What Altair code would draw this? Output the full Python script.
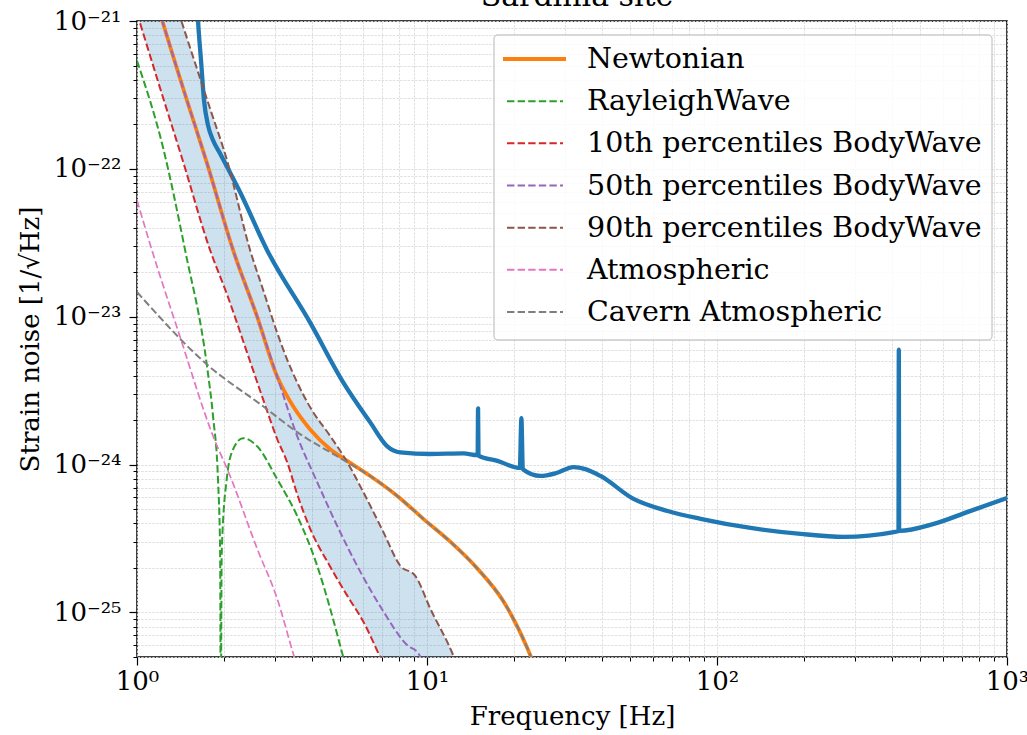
import altair as alt
import pandas as pd

# ---- Detector sensitivity (1/sqrt(Hz)) ----
sens_f = [1.611, 1.624, 1.663, 1.703, 1.759, 1.829, 1.934, 2.268, 2.810, 3.955,
          5.141, 6.372, 7.294, 8.088, 10.27, 13.35, 14.95, 15.00, 15.05, 17.49,
          20.9, 21.16, 21.4, 24.61, 27.95, 31.99, 35.18, 39.65, 51.54, 67.52,
          87.78, 130.6, 194.3, 273.5, 407.0, 422.5, 423.6, 424.7, 559.4, 732.8, 1000.0]
sens_v = [1.36e-21, 1.00e-21, 5.38e-22, 2.89e-22, 1.96e-22, 1.56e-22, 1.27e-22, 6.95e-23, 2.82e-23, 9.12e-24,
          3.60e-24, 1.93e-24, 1.33e-24, 1.21e-24, 1.18e-24, 1.19e-24, 1.16e-24, 2.40e-24, 1.15e-24, 1.06e-24,
          9.5e-25, 2.06e-24, 9.3e-25, 8.38e-25, 8.77e-25, 9.62e-25, 9.33e-25, 8.38e-25, 5.86e-25, 4.86e-25,
          4.30e-25, 3.73e-25, 3.40e-25, 3.25e-25, 3.50e-25, 3.56e-25, 6.00e-24, 3.56e-25, 3.97e-25, 4.79e-25, 5.94e-25]

# ---- Total Newtonian noise ----
nn_f = [1.109, 1.229, 1.488, 1.744, 2.145, 2.596, 3.043, 3.455, 3.955, 4.637,
        5.307, 6.372, 7.899, 9.710, 12.03, 14.92, 18.34, 22.19, 23.65]
nn_v = [1.92e-21, 9.70e-22, 2.89e-22, 1.09e-22, 2.82e-23, 1.00e-23, 3.94e-24, 2.48e-24, 1.73e-24, 1.27e-24,
        1.06e-24, 8.38e-25, 6.14e-25, 4.30e-25, 3.01e-25, 1.98e-25, 1.19e-25, 5.73e-26, 4.20e-26]

# ---- Rayleigh-wave contribution ----
rayleigh_f = [1.000, 1.229, 1.465, 1.744, 1.829, 1.904, 1.934, 1.940, 1.945, 1.951,
              1.961, 2.045, 2.145, 2.322, 2.596, 3.043, 3.567, 4.181, 4.637, 5.101, 5.266]
rayleigh_v = [5.38e-22, 1.40e-22, 2.82e-23, 4.60e-24, 2.12e-24, 7.62e-25, 2.70e-25, 5.0e-26, 1.0e-28, 5.0e-26,
              2.70e-25, 8.38e-25, 1.27e-24, 1.51e-24, 1.33e-24, 7.98e-25, 4.50e-25, 2.07e-25, 1.06e-25, 5.30e-26, 4.20e-26]

# ---- Body-wave percentiles (10th and 90th share a frequency grid) ----
body_f = [1.000, 1.200, 1.430, 1.787, 2.045, 2.455, 2.722, 3.043, 3.294, 3.567,
          3.955, 4.637, 5.307, 6.028, 7.067, 8.088, 9.111, 10.27, 12.23, 13.03]
body10_v = [1.13e-21, 3.54e-22, 1.18e-22, 2.82e-23, 1.41e-23, 4.98e-24, 2.76e-24, 1.49e-24, 1.04e-24, 6.32e-25,
            3.68e-25, 2.04e-25, 1.30e-25, 8.69e-26, 4.54e-26, 2.85e-26, 1.93e-26, 1.31e-26, 7.62e-27, 6.04e-27]
body90_v = [9.04e-21, 2.87e-21, 9.70e-22, 2.55e-22, 1.14e-22, 2.82e-23, 1.52e-23, 7.80e-24, 5.13e-24, 3.60e-24,
            2.44e-24, 1.56e-24, 1.04e-24, 6.53e-25, 3.51e-25, 2.07e-25, 1.77e-25, 1.06e-25, 5.30e-26, 3.88e-26]

body50_f = [1.109, 1.229, 1.488, 1.744, 2.145, 2.596, 3.043, 3.567, 4.181, 4.902,
            5.886, 7.067, 8.551, 9.333, 9.865]
body50_v = [1.92e-21, 9.70e-22, 2.89e-22, 1.09e-22, 2.82e-23, 1.00e-23, 3.94e-24, 1.56e-24, 7.62e-25, 3.85e-25,
            1.89e-25, 1.02e-25, 6.00e-26, 5.30e-26, 4.06e-26]

# ---- Atmospheric contributions ----
atm_f = [1.000, 1.126, 1.407, 1.829, 2.094, 2.596, 3.043, 3.455, 3.539]
atm_v = [6.14e-23, 2.82e-23, 7.33e-24, 1.56e-24, 8.38e-25, 2.70e-25, 1.24e-25, 5.30e-26, 4.54e-26]

cav_f = [1.000, 1.744, 2.722, 3.567, 5.307, 6.372, 7.899, 9.710, 12.03, 14.92, 18.34, 22.19, 23.65]
cav_v = [1.47e-23, 4.75e-24, 2.48e-24, 1.66e-24, 1.04e-24, 8.38e-25, 6.14e-25, 4.30e-25, 3.01e-25,
         1.98e-25, 1.19e-25, 5.73e-26, 4.20e-26]

legend_labels = ["Newtonian", "RayleighWave", "10th percentiles BodyWave",
                 "50th percentiles BodyWave", "90th percentiles BodyWave",
                 "Atmospheric", "Cavern Atmospheric"]

FONT = "DejaVu Serif"
FS = 26
LEG_FS = 28.5
W, H = 870, 636

xs = alt.Scale(type="log", domain=[1, 1000], nice=False)
ys = alt.Scale(type="log", domain=[5e-26, 1e-21], nice=False)

sup = {"0": "\u2070", "1": "\u00b9", "2": "\u00b2", "3": "\u00b3", "4": "\u2074",
       "5": "\u2075", "6": "\u2076", "7": "\u2077", "8": "\u2078", "9": "\u2079", "-": "\u207b"}


def pow_label_expr(exps):
    expr = "''"
    for e in exps:
        lab = "10" + "".join(sup[c] for c in str(e))
        expr = f"round(log(datum.value)/LN10) == {e} ? '{lab}' : ({expr})"
    return expr


x_major = [1, 10, 100, 1000]
x_minor = [m * d for d in (1, 10, 100) for m in range(2, 10)]
y_major = [1e-25, 1e-24, 1e-23, 1e-22, 1e-21]
y_minor = [m * d for d in (1e-26, 1e-25, 1e-24, 1e-23, 1e-22) for m in range(2, 10)
           if 5e-26 <= m * d <= 1e-21]

grid_style = dict(grid=True, gridColor="#dcdcdc", gridDash=[2.5, 1.2], gridWidth=0.9)

x_axis_major = alt.Axis(values=x_major, labelExpr=pow_label_expr([0, 1, 2, 3]), orient="bottom",
                        tickSize=8, tickWidth=1.2, tickColor="black", domain=False,
                        labelFont=FONT, labelFontSize=FS, labelColor="black", labelPadding=3,
                        labelFlush=False, labelOverlap=False,
                        title="Frequency [Hz]", titleFont=FONT, titleFontSize=FS,
                        titleFontWeight="normal", titleColor="black", titlePadding=9, **grid_style)
y_axis_major = alt.Axis(values=y_major, labelExpr=pow_label_expr([-21, -22, -23, -24, -25]), orient="left",
                        tickSize=8, tickWidth=1.2, tickColor="black", domain=False,
                        labelFont=FONT, labelFontSize=FS, labelColor="black", labelPadding=8,
                        labelFlush=False, labelOverlap=False,
                        title="Strain noise [1/\u221aHz]", titleFont=FONT, titleFontSize=FS,
                        titleFontWeight="normal", titleColor="black", titlePadding=10, **grid_style)
x_axis_minor = alt.Axis(values=x_minor, orient="bottom", labels=False, tickSize=4, tickWidth=1,
                        tickColor="black", domain=False, title="", **grid_style)
y_axis_minor = alt.Axis(values=y_minor, orient="left", labels=False, tickSize=4, tickWidth=1,
                        tickColor="black", domain=False, title="", **grid_style)

# Shaded spread between 10th and 90th body-wave percentiles
band_df = pd.DataFrame({"f": body_f, "lo": body10_v, "hi": body90_v})
band = alt.Chart(band_df).mark_area(color="#1f77b4", opacity=0.22, clip=True,
                                    interpolate="monotone").encode(
    x=alt.X("f:Q", scale=xs, axis=x_axis_major),
    y=alt.Y("hi:Q", scale=ys, axis=y_axis_major),
    y2="lo:Q",
)

sens_df = pd.DataFrame({"f": sens_f, "v": sens_v})
sens = alt.Chart(sens_df).mark_line(color="#1f77b4", strokeWidth=4.3, clip=True,
                                    strokeJoin="round", strokeCap="round",
                                    interpolate="monotone").encode(
    x=alt.X("f:Q", scale=xs, axis=x_axis_minor),
    y=alt.Y("v:Q", scale=ys, axis=y_axis_minor),
)


def curve(f, v, color, width, dash=None):
    kw = dict(color=color, strokeWidth=width, clip=True, interpolate="monotone")
    if dash:
        kw["strokeDash"] = dash
    return alt.Chart(pd.DataFrame({"f": f, "v": v})).mark_line(**kw).encode(
        x=alt.X("f:Q", scale=xs, axis=None),
        y=alt.Y("v:Q", scale=ys, axis=None),
    )


DASH = [7.4, 3.2]
curves = [
    curve(nn_f, nn_v, "#ff7f0e", 3.8),
    curve(rayleigh_f, rayleigh_v, "#2ca02c", 2.0, DASH),
    curve(body_f, body10_v, "#d62728", 2.0, DASH),
    curve(body50_f, body50_v, "#9467bd", 2.0, DASH),
    curve(body_f, body90_v, "#8c564b", 2.0, DASH),
    curve(atm_f, atm_v, "#e377c2", 1.7, DASH),
    curve(cav_f, cav_v, "#7f7f7f", 2.0, DASH),
]

# Site title above the plot
title = alt.Chart().mark_text(align="center", baseline="alphabetic", font=FONT, fontSize=30,
                              color="black").encode(
    x=alt.value(440), y=alt.value(-15), text=alt.value("Sardinia site"))

# Legend drawn as a framed box in the upper right of the plot
legend_styles = [("#ff7f0e", 3.8, None), ("#2ca02c", 2.0, DASH), ("#d62728", 2.0, DASH),
                 ("#9467bd", 2.0, DASH), ("#8c564b", 2.0, DASH), ("#e377c2", 2.0, DASH),
                 ("#7f7f7f", 2.0, DASH)]
legend_layers = [
    alt.Chart().mark_rect(fill="white", fillOpacity=0.8, stroke="#cccccc", strokeWidth=1.4,
                          cornerRadius=4).encode(
        x=alt.value(357), x2=alt.value(855), y=alt.value(14), y2=alt.value(319))
]
for i, (label, (col, lw, dash)) in enumerate(zip(legend_labels, legend_styles)):
    yc = 38 + 42.17 * i
    kw = dict(color=col, strokeWidth=lw)
    if dash:
        kw["strokeDash"] = dash
        x0, x1 = 370, 426
    else:
        x0, x1 = 366, 429
    legend_layers.append(alt.Chart().mark_rule(**kw).encode(
        x=alt.value(x0), x2=alt.value(x1), y=alt.value(yc)))
    legend_layers.append(alt.Chart().mark_text(align="left", baseline="middle", font=FONT,
                                               fontSize=LEG_FS, color="black").encode(
        x=alt.value(450), y=alt.value(yc), text=alt.value(label)))

chart = alt.layer(band, sens, *curves, title, *legend_layers).resolve_axis(
    x="independent", y="independent"
).properties(
    width=W, height=H,
    autosize="none",
    padding={"left": 137, "top": 21, "right": 20, "bottom": 78},
).configure_view(stroke="black", strokeWidth=1.5)

chart.save("out.html", embed_options={"renderer": "svg", "actions": False})
